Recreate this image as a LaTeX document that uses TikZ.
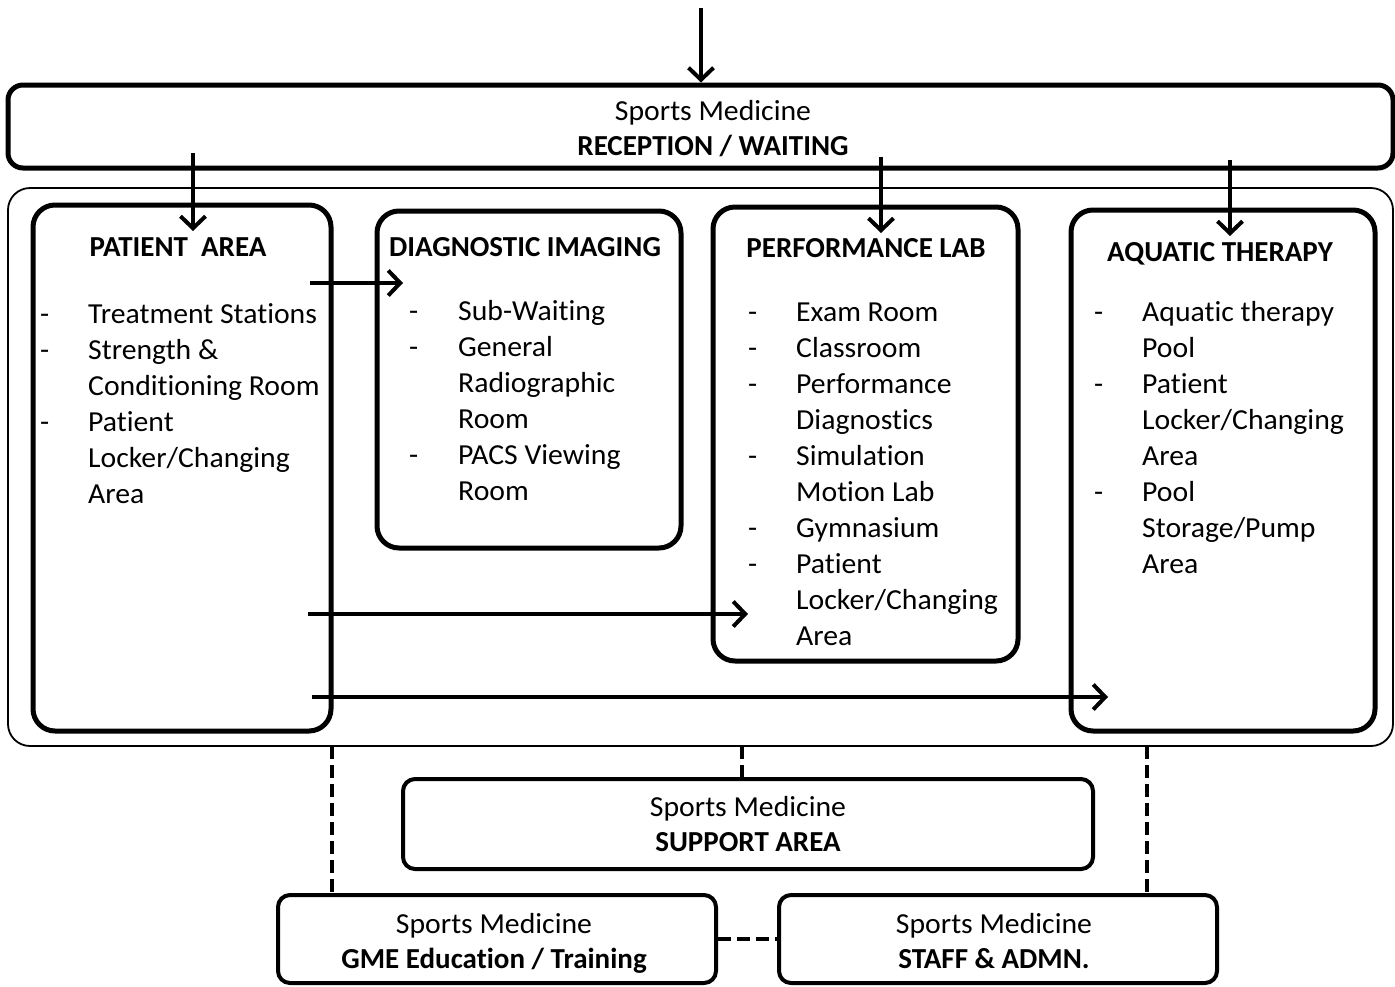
\documentclass[tikz,border=0pt]{standalone}
\usepackage{fontspec}
\setmainfont{Carlito}[Ligatures=NoCommon, UprightFeatures={FakeStretch=1.025}]
\usetikzlibrary{arrows.meta}
\begin{document}
\begin{tikzpicture}[x=1pt,y=-1pt,
  recbox/.style={draw, line width=5pt, rounded corners=15pt, inner sep=0pt},
  outerbox/.style={draw, line width=1.8pt, rounded corners=22pt, inner sep=0pt},
  areabox/.style={draw, line width=5pt, rounded corners=22pt, inner sep=0pt},
  lowbox/.style={draw, line width=4pt, rounded corners=12pt, inner sep=0pt},
  txt/.style={inner sep=0pt, font=\fontsize{29}{35}\selectfont},
  listtxt/.style={inner sep=0pt, anchor=base west, font=\fontsize{29}{36}\selectfont},
  hdr/.style={inner sep=0pt, anchor=base, font=\fontsize{29}{35}\selectfont\bfseries},
  arr/.style={line width=4pt, -{Straight Barb[length=12pt,width=25pt,line width=4pt]}},
  dline/.style={line width=4pt, dash pattern=on 13pt off 6pt}
]
\useasboundingbox (0,0) rectangle (1395,986);

% boxes
\node[recbox, minimum width=1385pt, minimum height=83pt] (rec) at (700.5,126.5) {};
\node[outerbox, minimum width=1385pt, minimum height=558pt] (outer) at (700.5,467) {};
\node[areabox, minimum width=298pt, minimum height=526pt] (pa) at (182,468) {};
\node[areabox, minimum width=304pt, minimum height=337pt] (di) at (529,379.5) {};
\node[areabox, minimum width=305pt, minimum height=454pt] (pl) at (865.5,434) {};
\node[areabox, minimum width=304pt, minimum height=521pt] (aq) at (1223,470.5) {};
\node[lowbox, minimum width=690pt, minimum height=90pt] (sup) at (748,824) {};
\node[lowbox, minimum width=438pt, minimum height=88pt] (gme) at (497,939) {};
\node[lowbox, minimum width=438pt, minimum height=88pt] (staff) at (998,939) {};

% texts
\node[txt, anchor=base] (rectxt) at (713,120) {\begin{tabular}[t]{@{}c@{}}Sports Medicine\\\textbf{RECEPTION / WAITING}\end{tabular}};
\node[hdr] (pah) at (178,256) {PATIENT\ \ AREA};
\node[hdr] (dih) at (525,256) {DIAGNOSTIC IMAGING};
\node[hdr] (plh) at (866,257) {PERFORMANCE LAB};
\node[hdr] (aqh) at (1220,261) {AQUATIC THERAPY};

\node[listtxt] (pal) at (40,323) {\begin{tabular}[t]{@{}p{48pt}@{}l@{}}
-&Treatment Stations\\
-&Strength \&\\
&Conditioning Room\\
-&Patient\\
&Locker/Changing\\
&Area\end{tabular}};
\node[listtxt] (dil) at (409,320) {\begin{tabular}[t]{@{}p{49pt}@{}l@{}}
-&Sub-Waiting\\
-&General\\
&Radiographic\\
&Room\\
-&PACS Viewing\\
&Room\end{tabular}};
\node[listtxt] (pll) at (748,321) {\begin{tabular}[t]{@{}p{48pt}@{}l@{}}
-&Exam Room\\
-&Classroom\\
-&Performance\\
&Diagnostics\\
-&Simulation\\
&Motion Lab\\
-&Gymnasium\\
-&Patient\\
&Locker/Changing\\
&Area\end{tabular}};
\node[listtxt] (aql) at (1094,321) {\begin{tabular}[t]{@{}p{48pt}@{}l@{}}
-&Aquatic therapy\\
&Pool\\
-&Patient\\
&Locker/Changing\\
&Area\\
-&Pool\\
&Storage/Pump\\
&Area\end{tabular}};

\node[txt, anchor=base] (suptxt) at (748,816) {\begin{tabular}[t]{@{}c@{}}Sports Medicine\\\textbf{SUPPORT AREA}\end{tabular}};
\node[txt, anchor=base] (gmetxt) at (494,933) {\begin{tabular}[t]{@{}c@{}}Sports Medicine\\\textbf{GME Education / Training}\end{tabular}};
\node[txt, anchor=base] (stafftxt) at (994,933) {\begin{tabular}[t]{@{}c@{}}Sports Medicine\\\textbf{STAFF \& ADMN.}\end{tabular}};

% arrows
\coordinate (in) at (701,8);
\draw[arr] (in) -- (in |- rec.north);
\coordinate (a1s) at (193,153); \coordinate (a1e) at (193,231);
\coordinate (a2s) at (881,157); \coordinate (a2e) at (881,233);
\coordinate (a3s) at (1230,160); \coordinate (a3e) at (1230,236);
\draw[arr] (a1s) -- (a1e);
\draw[arr] (a2s) -- (a2e);
\draw[arr] (a3s) -- (a3e);
\coordinate (h1s) at (310,283); \coordinate (h1e) at (403,283);
\coordinate (h2s) at (308,614); \coordinate (h2e) at (748,614);
\coordinate (h3s) at (312,697); \coordinate (h3e) at (1108,697);
\draw[arr] (h1s) -- (h1e);
\draw[arr] (h2s) -- (h2e);
\draw[arr] (h3s) -- (h3e);

% dashed links
\coordinate (d1) at (332,746);
\draw[dline] (d1) -- (d1 |- gme.north);
\coordinate (d2) at (742,746);
\draw[dline] (d2) -- (d2 |- sup.north);
\coordinate (d3) at (1147,746);
\draw[dline] (d3) -- (d3 |- staff.north);
\draw[dline] (gme.east) -- (staff.west);
\end{tikzpicture}
\end{document}
